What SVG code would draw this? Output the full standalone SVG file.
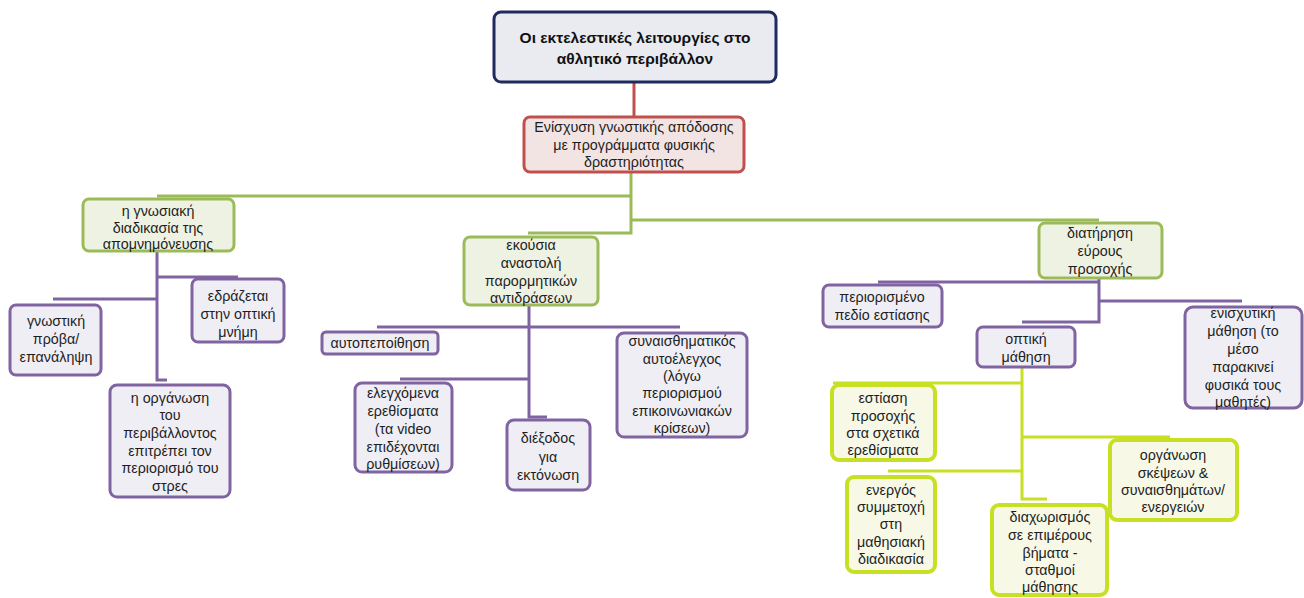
<svg xmlns="http://www.w3.org/2000/svg" width="1304" height="598" viewBox="0 0 1304 598">
<style>
text{font-family:"Liberation Sans",Arial,sans-serif;font-size:14.3px;fill:#1e1e1e;text-anchor:middle}
.t{font-size:15.5px;font-weight:bold;fill:#111}
.root{fill:#e9ebf1;stroke:#1f2b5e;stroke-width:3}
.red{fill:#f3e4e4;stroke:#c0504d;stroke-width:3}
.grn{fill:#eef2e2;stroke:#9bbb59;stroke-width:3}
.pur{fill:#f0eef5;stroke:#8064a2;stroke-width:3}
.yel{fill:#f7f9e6;stroke:#c8e023;stroke-width:4}
.cr{stroke:#c0504d;stroke-width:3;fill:none}
.cg{stroke:#9bbb59;stroke-width:3;fill:none}
.cp{stroke:#8064a2;stroke-width:3;fill:none}
.cy{stroke:#c8e023;stroke-width:3;fill:none}
</style>
<rect width="1304" height="598" fill="#ffffff"/>
<g id="connectors">
<path class="cr" d="M634 82V117"/>
<path class="cg" d="M631 172V233H528M157 196H631M631 220H1099"/>
<path class="cp" d="M157 251V380H167M157 277H238M157 299H53"/>
<path class="cp" d="M529 305V417H547M377 327H680M529 379H400"/>
<path class="cp" d="M1099 278V322H1022M878 282H1099M1099 301H1242"/>
<path class="cy" d="M1022 367V499H1047M833 383H1022M1022 437H1170M888 471H1022"/>
</g>
<g id="n-root">
<rect class="root" x="494" y="12" width="282" height="70" rx="7"/>
<text class="t" x="635" y="43">Οι εκτελεστικές λειτουργίες στο</text>
<text class="t" x="635" y="64">αθλητικό περιβάλλον</text>
</g>
<g id="n-enisxysi">
<rect class="red" x="524" y="117" width="220" height="55" rx="6"/>
<text x="634" y="132">Ενίσχυση γνωστικής απόδοσης</text>
<text x="634" y="150">με προγράμματα φυσικής</text>
<text x="634" y="167">δραστηριότητας</text>
</g>
<g id="n-gnosiaki">
<rect class="grn" x="83" y="199" width="151" height="52" rx="6"/>
<text x="158" y="216">η γνωσιακή</text>
<text x="158" y="233">διαδικασία της</text>
<text x="158" y="249">απομνημόνευσης</text>
</g>
<g id="n-edrazetai">
<rect class="pur" x="192" y="279" width="92" height="63" rx="6"/>
<text x="238" y="301">εδράζεται</text>
<text x="238" y="319">στην οπτική</text>
<text x="238" y="337">μνήμη</text>
</g>
<g id="n-provas">
<rect class="pur" x="10" y="305" width="91" height="70" rx="6"/>
<text x="56" y="326">γνωστική</text>
<text x="56" y="344">πρόβα/</text>
<text x="56" y="362">επανάληψη</text>
</g>
<g id="n-organosi-perivallontos">
<rect class="pur" x="110" y="385" width="120" height="112" rx="7"/>
<text x="170" y="403">η οργάνωση</text>
<text x="170" y="420">του</text>
<text x="170" y="438">περιβάλλοντος</text>
<text x="170" y="456">επιτρέπει τον</text>
<text x="170" y="473">περιορισμό του</text>
<text x="170" y="491">στρες</text>
</g>
<g id="n-ekousia">
<rect class="grn" x="464" y="237" width="134" height="68" rx="6"/>
<text x="531" y="250">εκούσια</text>
<text x="531" y="268">αναστολή</text>
<text x="531" y="286">παρορμητικών</text>
<text x="531" y="303">αντιδράσεων</text>
</g>
<g id="n-autopepoithisi">
<rect class="pur" x="322" y="332" width="116" height="22" rx="4"/>
<text x="380" y="348">αυτοπεποίθηση</text>
</g>
<g id="n-synaisthimatikos">
<rect class="pur" x="617" y="333" width="130" height="104" rx="7"/>
<text x="682" y="346">συναισθηματικός</text>
<text x="682" y="364">αυτοέλεγχος</text>
<text x="682" y="381">(λόγω</text>
<text x="682" y="398">περιορισμού</text>
<text x="682" y="416">επικοινωνιακών</text>
<text x="682" y="433">κρίσεων)</text>
</g>
<g id="n-elegxomena">
<rect class="pur" x="355" y="383" width="97" height="89" rx="7"/>
<text x="403" y="398">ελεγχόμενα</text>
<text x="403" y="416">ερεθίσματα</text>
<text x="403" y="434">(τα video</text>
<text x="403" y="452">επιδέχονται</text>
<text x="403" y="469">ρυθμίσεων)</text>
</g>
<g id="n-diexodos">
<rect class="pur" x="507" y="420" width="83" height="70" rx="7"/>
<text x="548" y="443">διέξοδος</text>
<text x="548" y="462">για</text>
<text x="548" y="480">εκτόνωση</text>
</g>
<g id="n-diatirisi">
<rect class="grn" x="1039" y="223" width="123" height="55" rx="6"/>
<text x="1100" y="238">διατήρηση</text>
<text x="1100" y="256">εύρους</text>
<text x="1100" y="274">προσοχής</text>
</g>
<g id="n-periorismeno">
<rect class="pur" x="823" y="285" width="119" height="42" rx="6"/>
<text x="882" y="302">περιορισμένο</text>
<text x="882" y="320">πεδίο εστίασης</text>
</g>
<g id="n-optiki">
<rect class="pur" x="977" y="327" width="98" height="40" rx="6"/>
<text x="1026" y="344">οπτική</text>
<text x="1026" y="362">μάθηση</text>
</g>
<g id="n-enisxytiki">
<rect class="pur" x="1185" y="307" width="117" height="101" rx="8"/>
<text x="1243" y="318">ενισχυτική</text>
<text x="1243" y="336">μάθηση (το</text>
<text x="1243" y="354">μέσο</text>
<text x="1243" y="372">παρακινεί</text>
<text x="1243" y="390">φυσικά τους</text>
<text x="1243" y="407">μαθητές)</text>
</g>
<g id="n-estiasi">
<rect class="yel" x="832" y="385" width="103" height="75" rx="7"/>
<text x="883" y="403">εστίαση</text>
<text x="883" y="421">προσοχής</text>
<text x="883" y="438">στα σχετικά</text>
<text x="883" y="455">ερεθίσματα</text>
</g>
<g id="n-energos">
<rect class="yel" x="847" y="477" width="88" height="95" rx="7"/>
<text x="891" y="495">ενεργός</text>
<text x="891" y="512">συμμετοχή</text>
<text x="891" y="529">στη</text>
<text x="891" y="547">μαθησιακή</text>
<text x="891" y="564">διαδικασία</text>
</g>
<g id="n-diaxorismos">
<rect class="yel" x="992" y="505" width="115" height="90" rx="7"/>
<text x="1050" y="522">διαχωρισμός</text>
<text x="1050" y="540">σε επιμέρους</text>
<text x="1050" y="558">βήματα -</text>
<text x="1050" y="575">σταθμοί</text>
<text x="1050" y="592">μάθησης</text>
</g>
<g id="n-organosi-skepseon">
<rect class="yel" x="1110" y="440" width="127" height="80" rx="7"/>
<text x="1173" y="460">οργάνωση</text>
<text x="1173" y="478">σκέψεων &amp;</text>
<text x="1173" y="495">συναισθημάτων/</text>
<text x="1173" y="512">ενεργειών</text>
</g>
</svg>
